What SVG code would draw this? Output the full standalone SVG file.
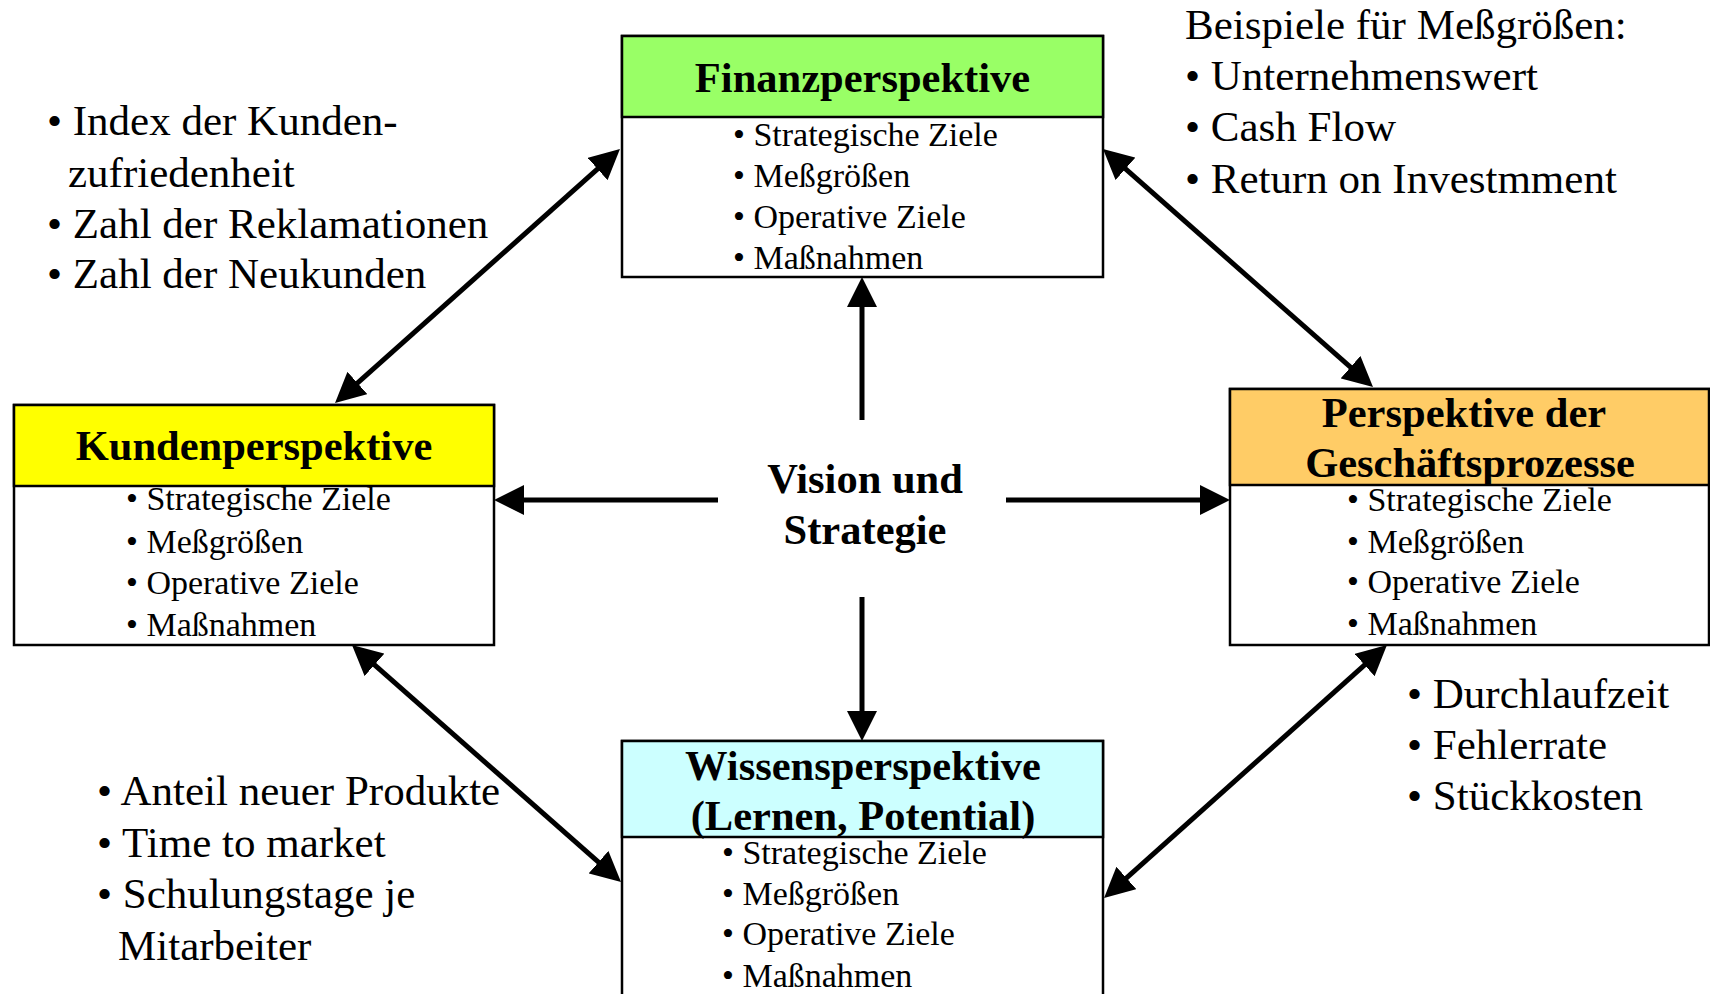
<svg xmlns="http://www.w3.org/2000/svg" width="1710" height="994" viewBox="0 0 1710 994">
  <style>
    .box { fill: #ffffff; stroke: #000000; stroke-width: 2.5; }
    .head { stroke: #000000; stroke-width: 2.5; }
    .title { font-family: "Liberation Serif", "Times New Roman", serif; font-weight: bold; font-size: 42.5px; fill: #000; text-anchor: middle; }
    .item { font-family: "Liberation Serif", "Times New Roman", serif; font-size: 34px; fill: #000; }
    .note { font-family: "Liberation Serif", "Times New Roman", serif; font-size: 43px; fill: #000; }
    .conn { stroke: #000000; stroke-width: 5; fill: none; }
  </style>
  <defs>
    <marker id="arrow" viewBox="0 0 30 30" refX="20" refY="15" markerWidth="30" markerHeight="30" markerUnits="userSpaceOnUse" orient="auto-start-reverse">
      <path d="M0,0 L30,15 L0,30 z" fill="#000000"/>
    </marker>
  </defs>
  <rect width="1710" height="994" fill="#ffffff"/>

  <!-- connectors -->
  <g id="connectors">
    <line class="conn" x1="612.5" y1="155.7" x2="342.5" y2="396.3" marker-start="url(#arrow)" marker-end="url(#arrow)"/>
    <line class="conn" x1="1110.5" y1="155.6" x2="1365.5" y2="380.4" marker-start="url(#arrow)" marker-end="url(#arrow)"/>
    <line class="conn" x1="359.5" y1="651.6" x2="613.5" y2="875.4" marker-start="url(#arrow)" marker-end="url(#arrow)"/>
    <line class="conn" x1="1379.5" y1="651.7" x2="1111.5" y2="891.3" marker-start="url(#arrow)" marker-end="url(#arrow)"/>
    <line class="conn" x1="862" y1="420" x2="862" y2="287" marker-end="url(#arrow)"/>
    <line class="conn" x1="862" y1="597" x2="862" y2="731" marker-end="url(#arrow)"/>
    <line class="conn" x1="718" y1="500" x2="504" y2="500" marker-end="url(#arrow)"/>
    <line class="conn" x1="1006" y1="500" x2="1220" y2="500" marker-end="url(#arrow)"/>
  </g>

  <!-- Finanzperspektive -->
  <g id="finanz">
    <rect class="box" x="622" y="36" width="481" height="241"/>
    <rect class="head" x="622" y="36" width="481" height="81" fill="#99ff66"/>
    <text class="title" x="862.5" y="92">Finanzperspektive</text>
    <text class="item" x="733" y="146">• Strategische Ziele</text>
    <text class="item" x="733" y="187">• Meßgrößen</text>
    <text class="item" x="733" y="228">• Operative Ziele</text>
    <text class="item" x="733" y="269">• Maßnahmen</text>
  </g>

  <!-- Kundenperspektive -->
  <g id="kunden">
    <rect class="box" x="14" y="405" width="480" height="240"/>
    <rect class="head" x="14" y="405" width="480" height="81" fill="#ffff00"/>
    <text class="title" x="254" y="460">Kundenperspektive</text>
    <text class="item" x="126" y="510">• Strategische Ziele</text>
    <text class="item" x="126" y="553">• Meßgrößen</text>
    <text class="item" x="126" y="594">• Operative Ziele</text>
    <text class="item" x="126" y="636">• Maßnahmen</text>
  </g>

  <!-- Perspektive der Geschäftsprozesse -->
  <g id="prozesse">
    <rect class="box" x="1230" y="389" width="479" height="256"/>
    <rect class="head" x="1230" y="389" width="479" height="96" fill="#ffcc66"/>
    <text class="title" x="1464" y="427">Perspektive der</text>
    <text class="title" x="1470" y="477">Geschäftsprozesse</text>
    <text class="item" x="1347" y="511">• Strategische Ziele</text>
    <text class="item" x="1347" y="553">• Meßgrößen</text>
    <text class="item" x="1347" y="593">• Operative Ziele</text>
    <text class="item" x="1347" y="635">• Maßnahmen</text>
  </g>

  <!-- Wissensperspektive -->
  <g id="wissen">
    <rect class="box" x="622" y="741" width="481" height="270"/>
    <rect class="head" x="622" y="741" width="481" height="96" fill="#ccffff"/>
    <text class="title" x="863" y="780">Wissensperspektive</text>
    <text class="title" x="863" y="830">(Lernen, Potential)</text>
    <text class="item" x="722" y="864">• Strategische Ziele</text>
    <text class="item" x="722" y="905">• Meßgrößen</text>
    <text class="item" x="722" y="945">• Operative Ziele</text>
    <text class="item" x="722" y="987">• Maßnahmen</text>
  </g>

  <!-- Vision und Strategie -->
  <g id="vision">
    <text class="title" x="865" y="493">Vision und</text>
    <text class="title" x="865" y="544">Strategie</text>
  </g>

  <!-- example measures -->
  <g id="notes-kunden">
    <text class="note" x="47" y="135">• Index der Kunden-</text>
    <text class="note" x="68" y="187">zufriedenheit</text>
    <text class="note" x="47" y="238">• Zahl der Reklamationen</text>
    <text class="note" x="47" y="288">• Zahl der Neukunden</text>
  </g>
  <g id="notes-finanz">
    <text class="note" x="1185" y="39">Beispiele für Meßgrößen:</text>
    <text class="note" x="1185" y="90">• Unternehmenswert</text>
    <text class="note" x="1185" y="141">• Cash Flow</text>
    <text class="note" x="1185" y="193">• Return on Investmment</text>
  </g>
  <g id="notes-prozesse">
    <text class="note" x="1407" y="708">• Durchlaufzeit</text>
    <text class="note" x="1407" y="759">• Fehlerrate</text>
    <text class="note" x="1407" y="810">• Stückkosten</text>
  </g>
  <g id="notes-wissen">
    <text class="note" x="97" y="805">• Anteil neuer Produkte</text>
    <text class="note" x="97" y="857">• Time to market</text>
    <text class="note" x="97" y="908">• Schulungstage je</text>
    <text class="note" x="118" y="960">Mitarbeiter</text>
  </g>
</svg>
